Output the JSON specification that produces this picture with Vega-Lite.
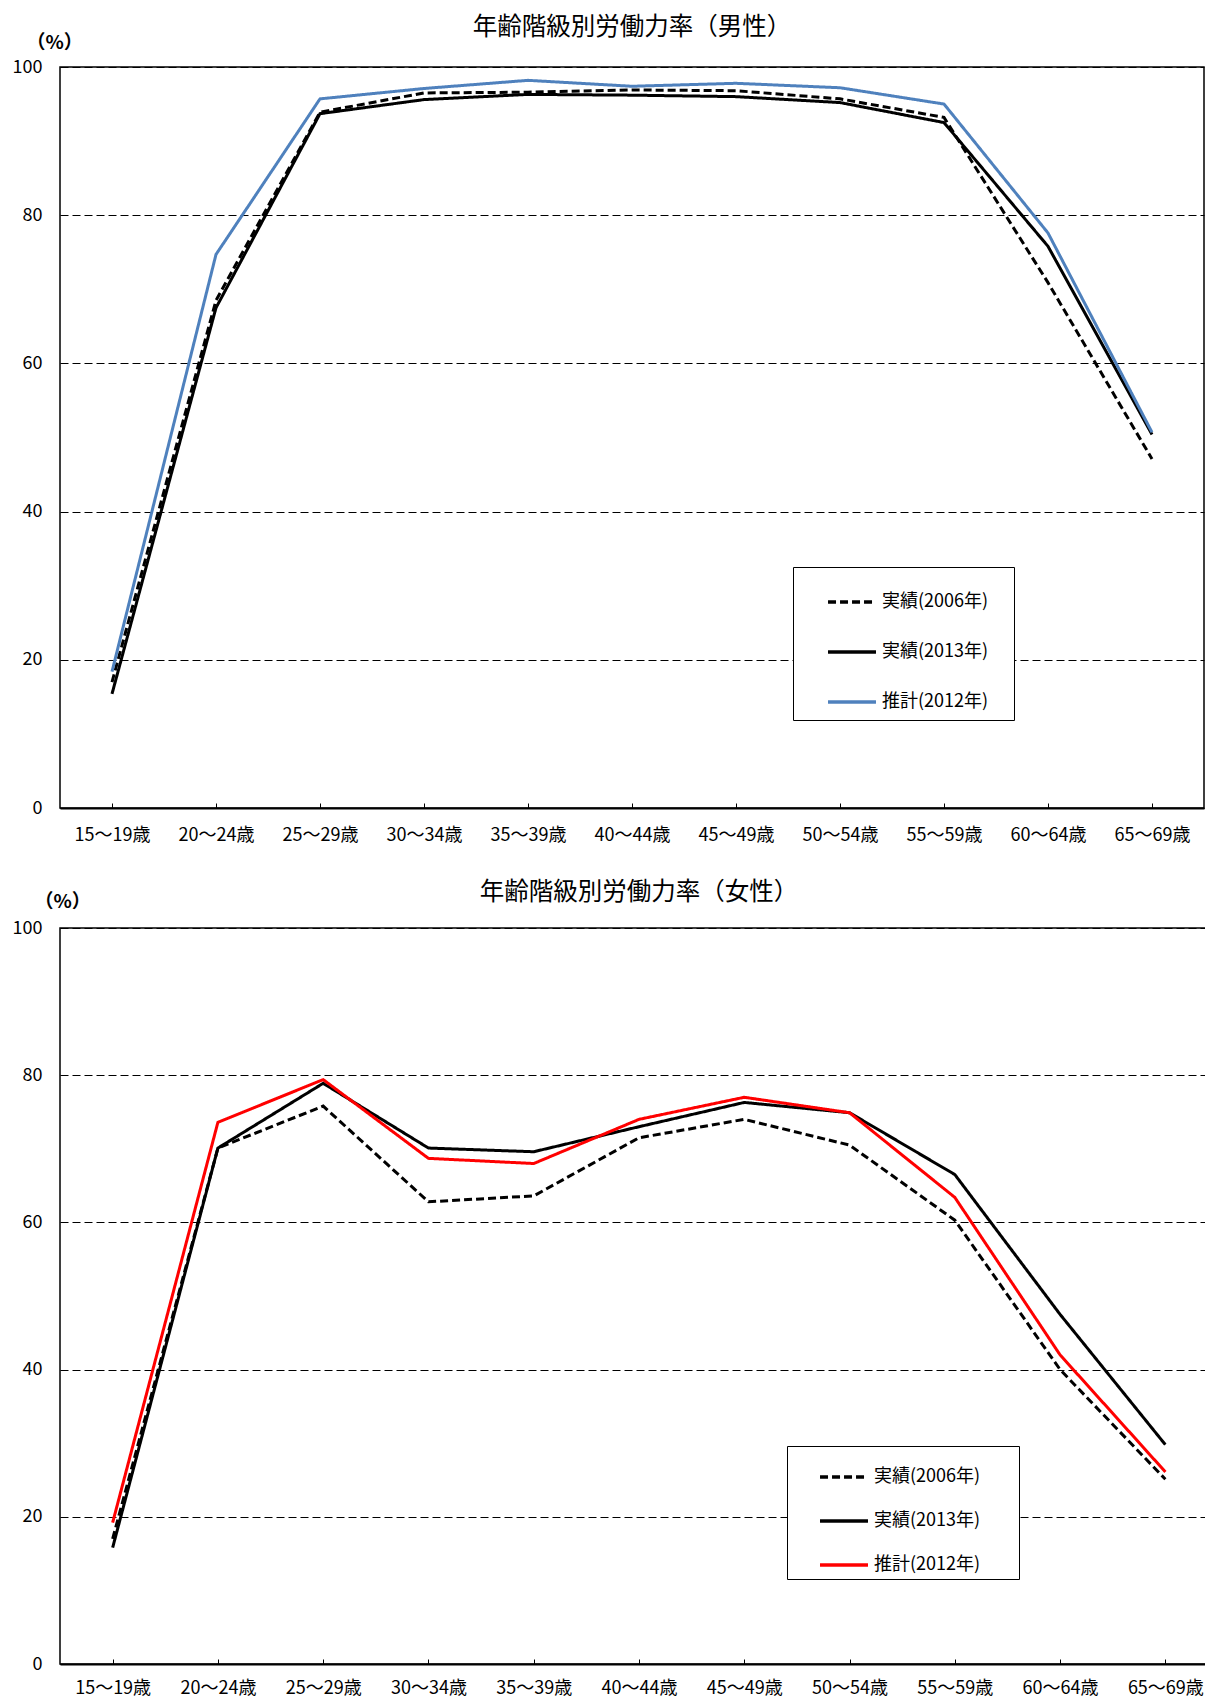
{
  "$schema": "https://vega.github.io/schema/vega-lite/v6.json",
  "padding": {"left": 11, "top": 13, "right": 0, "bottom": 0},
  "spacing": 33,
  "config": {
    "font": "Noto Sans CJK JP",
    "view": {"stroke": "#000", "strokeWidth": 1.5},
    "title": {"fontSize": 24.5, "fontWeight": "normal", "color": "#000", "anchor": "middle", "offset": -7},
    "axis": {"labelFont": "Noto Sans CJK JP", "labelFontSize": 18, "labelColor": "#000", "domainColor": "#000"},
    "legend": {"labelFont": "Noto Sans CJK JP"}
  },
  "datasets": {
    "male": [
      {"age": "15〜19歳", "s": "実績(2006年)", "v": 17.0},
      {"age": "20〜24歳", "s": "実績(2006年)", "v": 68.5},
      {"age": "25〜29歳", "s": "実績(2006年)", "v": 93.9},
      {"age": "30〜34歳", "s": "実績(2006年)", "v": 96.5},
      {"age": "35〜39歳", "s": "実績(2006年)", "v": 96.6},
      {"age": "40〜44歳", "s": "実績(2006年)", "v": 96.9},
      {"age": "45〜49歳", "s": "実績(2006年)", "v": 96.8},
      {"age": "50〜54歳", "s": "実績(2006年)", "v": 95.7},
      {"age": "55〜59歳", "s": "実績(2006年)", "v": 93.2},
      {"age": "60〜64歳", "s": "実績(2006年)", "v": 70.9},
      {"age": "65〜69歳", "s": "実績(2006年)", "v": 47.1},
      {"age": "15〜19歳", "s": "実績(2013年)", "v": 15.4},
      {"age": "20〜24歳", "s": "実績(2013年)", "v": 67.5},
      {"age": "25〜29歳", "s": "実績(2013年)", "v": 93.7},
      {"age": "30〜34歳", "s": "実績(2013年)", "v": 95.6},
      {"age": "35〜39歳", "s": "実績(2013年)", "v": 96.3},
      {"age": "40〜44歳", "s": "実績(2013年)", "v": 96.2},
      {"age": "45〜49歳", "s": "実績(2013年)", "v": 96.0},
      {"age": "50〜54歳", "s": "実績(2013年)", "v": 95.2},
      {"age": "55〜59歳", "s": "実績(2013年)", "v": 92.5},
      {"age": "60〜64歳", "s": "実績(2013年)", "v": 75.8},
      {"age": "65〜69歳", "s": "実績(2013年)", "v": 50.4},
      {"age": "15〜19歳", "s": "推計(2012年)", "v": 18.4},
      {"age": "20〜24歳", "s": "推計(2012年)", "v": 74.7},
      {"age": "25〜29歳", "s": "推計(2012年)", "v": 95.7},
      {"age": "30〜34歳", "s": "推計(2012年)", "v": 97.1},
      {"age": "35〜39歳", "s": "推計(2012年)", "v": 98.2},
      {"age": "40〜44歳", "s": "推計(2012年)", "v": 97.4},
      {"age": "45〜49歳", "s": "推計(2012年)", "v": 97.8},
      {"age": "50〜54歳", "s": "推計(2012年)", "v": 97.2},
      {"age": "55〜59歳", "s": "推計(2012年)", "v": 95.0},
      {"age": "60〜64歳", "s": "推計(2012年)", "v": 77.6},
      {"age": "65〜69歳", "s": "推計(2012年)", "v": 50.7}
    ],
    "female": [
      {"age": "15〜19歳", "s": "実績(2006年)", "v": 17.0},
      {"age": "20〜24歳", "s": "実績(2006年)", "v": 70.1},
      {"age": "25〜29歳", "s": "実績(2006年)", "v": 75.8},
      {"age": "30〜34歳", "s": "実績(2006年)", "v": 62.8},
      {"age": "35〜39歳", "s": "実績(2006年)", "v": 63.6},
      {"age": "40〜44歳", "s": "実績(2006年)", "v": 71.5},
      {"age": "45〜49歳", "s": "実績(2006年)", "v": 74.0},
      {"age": "50〜54歳", "s": "実績(2006年)", "v": 70.5},
      {"age": "55〜59歳", "s": "実績(2006年)", "v": 60.3},
      {"age": "60〜64歳", "s": "実績(2006年)", "v": 40.0},
      {"age": "65〜69歳", "s": "実績(2006年)", "v": 25.1},
      {"age": "15〜19歳", "s": "実績(2013年)", "v": 15.8},
      {"age": "20〜24歳", "s": "実績(2013年)", "v": 70.1},
      {"age": "25〜29歳", "s": "実績(2013年)", "v": 78.9},
      {"age": "30〜34歳", "s": "実績(2013年)", "v": 70.1},
      {"age": "35〜39歳", "s": "実績(2013年)", "v": 69.6},
      {"age": "40〜44歳", "s": "実績(2013年)", "v": 73.0},
      {"age": "45〜49歳", "s": "実績(2013年)", "v": 76.3},
      {"age": "50〜54歳", "s": "実績(2013年)", "v": 74.9},
      {"age": "55〜59歳", "s": "実績(2013年)", "v": 66.5},
      {"age": "60〜64歳", "s": "実績(2013年)", "v": 47.5},
      {"age": "65〜69歳", "s": "実績(2013年)", "v": 29.8},
      {"age": "15〜19歳", "s": "推計(2012年)", "v": 19.2},
      {"age": "20〜24歳", "s": "推計(2012年)", "v": 73.6},
      {"age": "25〜29歳", "s": "推計(2012年)", "v": 79.4},
      {"age": "30〜34歳", "s": "推計(2012年)", "v": 68.7},
      {"age": "35〜39歳", "s": "推計(2012年)", "v": 68.0},
      {"age": "40〜44歳", "s": "推計(2012年)", "v": 74.0},
      {"age": "45〜49歳", "s": "推計(2012年)", "v": 77.0},
      {"age": "50〜54歳", "s": "推計(2012年)", "v": 74.9},
      {"age": "55〜59歳", "s": "推計(2012年)", "v": 63.4},
      {"age": "60〜64歳", "s": "推計(2012年)", "v": 42.0},
      {"age": "65〜69歳", "s": "推計(2012年)", "v": 26.1}
    ]
  },
  "resolve": {"scale": {"color": "independent", "strokeDash": "independent"}, "legend": {"color": "independent", "strokeDash": "independent"}},
  "vconcat": [
    {
      "title": "年齢階級別労働力率（男性）",
      "width": 1144,
      "height": 741,
      "data": {"name": "male"},
      "mark": {"type": "line", "strokeWidth": 3},
      "encoding": {
        "x": {"field": "age", "type": "ordinal", "sort": null, "scale": {"type": "point", "padding": 0.5},
          "axis": {"title": null, "labelAngle": 0, "tickSize": -5, "tickColor": "#000", "labelPadding": 23, "domainWidth": 2, "grid": false}},
        "y": {"field": "v", "type": "quantitative", "scale": {"domain": [0, 100]},
          "axis": {"values": [0, 20, 40, 60, 80, 100], "title": "（%）", "titleAngle": 0, "titleAlign": "left", "titleBaseline": "middle", "titleX": -34, "titleY": -25, "titleFontSize": 19, "titleFontWeight": "bold", "ticks": false, "domain": false, "labelPadding": 18, "grid": true, "gridColor": "#000", "gridDash": [8, 4], "gridWidth": 1}},
        "color": {"field": "s", "type": "nominal", "scale": {"domain": ["実績(2006年)", "実績(2013年)", "推計(2012年)"], "range": ["#000000", "#000000", "#4F81BD"]},
          "legend": {"title": null, "orient": "none", "legendX": 733, "legendY": 500, "symbolType": "stroke", "symbolSize": 2300, "symbolStrokeWidth": 3.5, "symbolOffset": 24, "labelFontSize": 18, "labelColor": "#000", "labelExpr": "datum.label + '\u3164'", "strokeColor": "#000", "padding": 9, "rowPadding": 15, "labelOffset": 4, "fillColor": "#fff"}},
        "strokeDash": {"field": "s", "type": "nominal", "scale": {"domain": ["実績(2006年)", "実績(2013年)", "推計(2012年)"], "range": [[8, 4], [1, 0], [1, 0]]},
          "legend": {"title": null, "orient": "none", "legendX": 733, "legendY": 500, "symbolType": "stroke", "symbolSize": 2300, "symbolStrokeWidth": 3.5, "symbolOffset": 24, "labelFontSize": 18, "labelColor": "#000", "labelExpr": "datum.label + '\u3164'", "strokeColor": "#000", "padding": 9, "rowPadding": 15, "labelOffset": 4, "fillColor": "#fff"}}
      }
    },
    {
      "title": {"text": "年齢階級別労働力率（女性）", "offset": -13},
      "width": 1158,
      "height": 736,
      "data": {"name": "female"},
      "mark": {"type": "line", "strokeWidth": 3},
      "encoding": {
        "x": {"field": "age", "type": "ordinal", "sort": null, "scale": {"type": "point", "padding": 0.5},
          "axis": {"title": null, "labelAngle": 0, "tickSize": -5, "tickColor": "#000", "labelPadding": 20, "domainWidth": 2, "grid": false}},
        "y": {"field": "v", "type": "quantitative", "scale": {"domain": [0, 100]},
          "axis": {"values": [0, 20, 40, 60, 80, 100], "title": "（%）", "titleAngle": 0, "titleAlign": "left", "titleBaseline": "middle", "titleX": -26, "titleY": -27, "titleFontSize": 19, "titleFontWeight": "bold", "ticks": false, "domain": false, "labelPadding": 18, "grid": true, "gridColor": "#000", "gridDash": [8, 4], "gridWidth": 1}},
        "color": {"field": "s", "type": "nominal", "scale": {"domain": ["実績(2006年)", "実績(2013年)", "推計(2012年)"], "range": ["#000000", "#000000", "#FF0000"]},
          "legend": {"title": null, "orient": "none", "legendX": 727, "legendY": 518, "symbolType": "stroke", "symbolSize": 2300, "symbolStrokeWidth": 3.5, "symbolOffset": 26, "labelFontSize": 18, "labelColor": "#000", "labelExpr": "datum.label + '\u3164\uFFA0'", "strokeColor": "#000", "padding": 5, "rowPadding": 9, "labelOffset": 4, "fillColor": "#fff"}},
        "strokeDash": {"field": "s", "type": "nominal", "scale": {"domain": ["実績(2006年)", "実績(2013年)", "推計(2012年)"], "range": [[8, 4], [1, 0], [1, 0]]},
          "legend": {"title": null, "orient": "none", "legendX": 727, "legendY": 518, "symbolType": "stroke", "symbolSize": 2300, "symbolStrokeWidth": 3.5, "symbolOffset": 26, "labelFontSize": 18, "labelColor": "#000", "labelExpr": "datum.label + '\u3164\uFFA0'", "strokeColor": "#000", "padding": 5, "rowPadding": 9, "labelOffset": 4, "fillColor": "#fff"}}
      }
    }
  ]
}
